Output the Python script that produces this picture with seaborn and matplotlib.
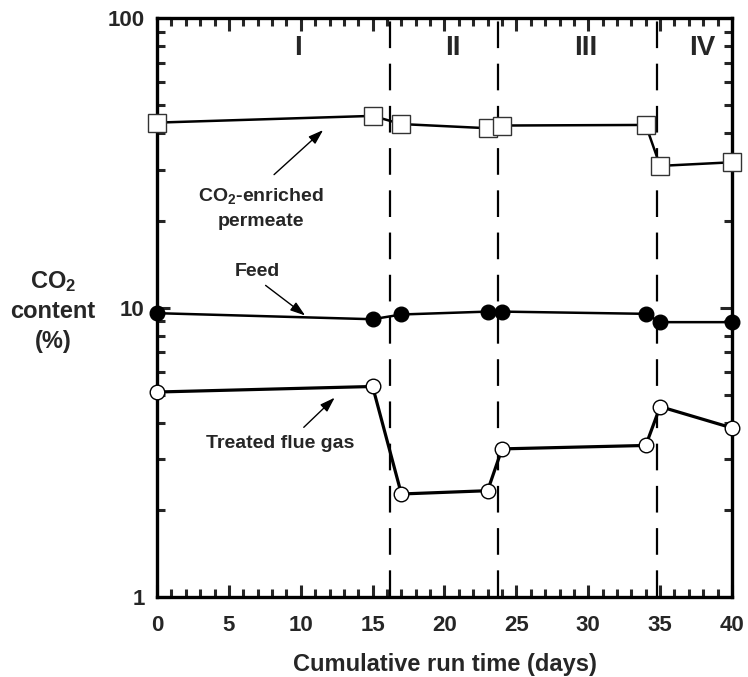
import matplotlib
matplotlib.use("Agg")
import matplotlib.pyplot as plt
import seaborn as sns
import pandas as pd

# ---- data ----
days = [0, 15, 17, 23, 24, 34, 35, 40]
permeate = [43.6, 46.0, 43.1, 41.7, 42.6, 42.8, 30.9, 31.8]
feed = [9.57, 9.12, 9.47, 9.69, 9.69, 9.52, 8.91, 8.91]
treated = [5.11, 5.34, 2.27, 2.33, 3.25, 3.34, 4.55, 3.84]
stage_bounds = [16.2, 23.7, 34.8]
stage_labels = ["I", "II", "III", "IV"]
stage_label_x = [9.8, 20.6, 29.8, 37.9]
xticks = [0, 5, 10, 15, 20, 25, 30, 35, 40]
yticks = [1, 10, 100]

sns.set_style("ticks")
plt.rcParams["font.family"] = ["Liberation Sans", "DejaVu Sans"]
plt.rcParams["font.weight"] = "bold"
plt.rcParams["mathtext.fontset"] = "custom"
plt.rcParams["mathtext.bf"] = "Liberation Sans:bold"
plt.rcParams["mathtext.rm"] = "Liberation Sans:bold"
plt.rcParams["mathtext.it"] = "Liberation Sans:bold"
plt.rcParams["mathtext.default"] = "bf"

fig = plt.figure(figsize=(7.48, 6.77), dpi=100)
ax = fig.add_axes([157/748, 1 - 597/677, (732-157)/748, (597-18.3)/677])

df = pd.DataFrame({"days": days, "permeate": permeate, "feed": feed, "treated": treated})

sns.lineplot(data=df, x="days", y="permeate", ax=ax, color="black", lw=1.8,
             marker="s", markersize=13, markerfacecolor="white",
             markeredgecolor="#333333", markeredgewidth=1.0, clip_on=False, zorder=5)
sns.lineplot(data=df, x="days", y="feed", ax=ax, color="black", lw=1.8,
             marker="o", markersize=10.5, markerfacecolor="black",
             markeredgecolor="black", markeredgewidth=1.0, clip_on=False, zorder=5)
sns.lineplot(data=df, x="days", y="treated", ax=ax, color="black", lw=2.3,
             marker="o", markersize=10.5, markerfacecolor="white",
             markeredgecolor="black", markeredgewidth=1.0, clip_on=False, zorder=5)

ax.set_yscale("log")
ax.set_xlim(0, 40)
ax.set_ylim(1, 100)

for xb in stage_bounds:
    ax.axvline(xb, color="black", lw=1.6, ls=(0, (12, 7)), zorder=2)

for lbl, lx in zip(stage_labels, stage_label_x):
    ax.text(lx, 78.8, lbl, ha="center", va="center", fontsize=20, fontweight="bold")

# annotations
ax.text(7.2, 22.1, "CO$_2$-enriched\npermeate", ha="center", va="center",
        fontsize=14, fontweight="bold", linespacing=1.5)
ax.annotate("", xy=(11.7, 41.7), xytext=(8.0, 28.4),
            arrowprops=dict(arrowstyle="-|>,head_length=0.9,head_width=0.3", lw=1.0, color="black"))
ax.text(6.96, 13.3, "Feed", ha="center", va="center", fontsize=14, fontweight="bold")
ax.annotate("", xy=(10.46, 9.27), xytext=(7.4, 12.1),
            arrowprops=dict(arrowstyle="-|>,head_length=0.9,head_width=0.3", lw=1.0, color="black"))
ax.text(8.56, 3.40, "Treated flue gas", ha="center", va="center", fontsize=14, fontweight="bold")
ax.annotate("", xy=(12.5, 4.96), xytext=(10.07, 3.80),
            arrowprops=dict(arrowstyle="-|>,head_length=0.9,head_width=0.3", lw=1.0, color="black"))

ax.set_xticks(xticks)
ax.set_xticklabels([str(t) for t in xticks])
ax.set_xticks(range(0, 41), minor=True)
ax.set_yticks(yticks)
ax.set_yticklabels([str(t) for t in yticks])

for s in ax.spines.values():
    s.set_linewidth(2.4)
    s.set_color("black")
    s.set_visible(True)

ax.tick_params(which="major", direction="in", length=9, width=2.2, top=True, right=True,
               labelsize=16)
ax.tick_params(axis="x", which="major", pad=13)
ax.tick_params(axis="y", which="major", pad=9)
ax.tick_params(which="minor", direction="in", length=5.5, width=2.2, top=True, right=True)
for lab in ax.get_xticklabels() + ax.get_yticklabels():
    lab.set_fontweight("bold")

ax.set_xlabel("Cumulative run time (days)", fontsize=17, fontweight="bold", labelpad=12)
ax.set_ylabel("")
fig.text(53/748, 1 - 311/677, "CO$_2$\ncontent\n(%)", ha="center", va="center",
         fontsize=17, fontweight="bold", linespacing=1.35)

fig.savefig("out.png", dpi=100)
